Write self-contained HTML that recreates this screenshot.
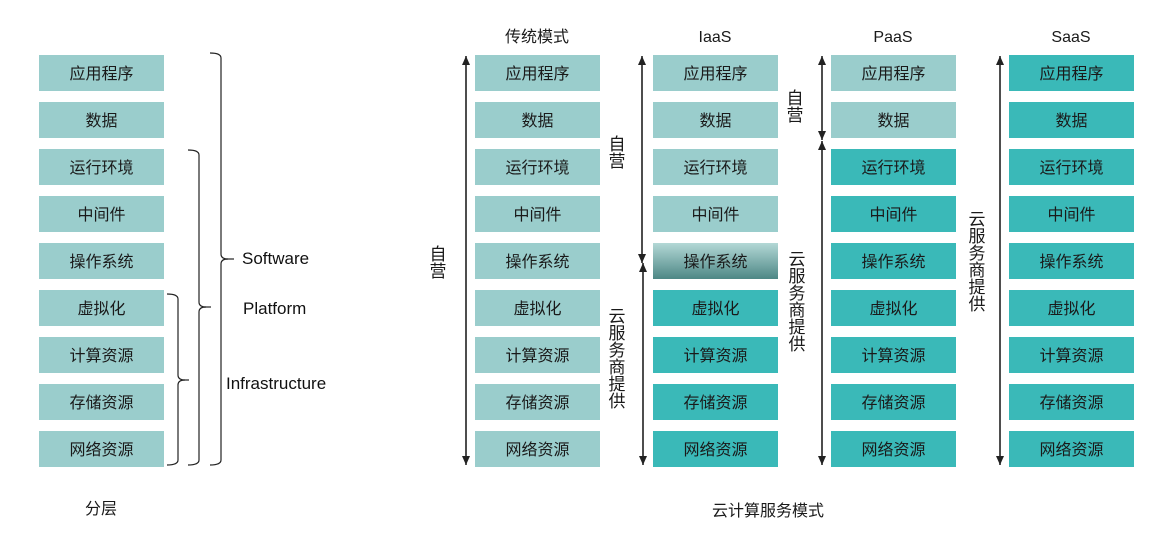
<!DOCTYPE html>
<html><head><meta charset="utf-8"><style>
body{margin:0;background:#fff;}
svg{display:block;font-family:"Liberation Sans","Noto Sans CJK SC",sans-serif;}
.t{font-size:16px;fill:#1a1a1a;text-anchor:middle;}
.v{font-size:17px;fill:#1a1a1a;text-anchor:middle;}
.L{fill:#9acdcc}.D{fill:#3ab9b8}
</style></head><body>
<svg width="1171" height="545" viewBox="0 0 1171 545" xmlns="http://www.w3.org/2000/svg">
<defs>
<linearGradient id="g" x1="0" y1="0" x2="0" y2="1"><stop offset="0" stop-color="#b3d8d6"/><stop offset="1" stop-color="#4d8785"/></linearGradient>
<marker id="a" markerWidth="10" markerHeight="8" refX="9" refY="4" orient="auto-start-reverse" markerUnits="userSpaceOnUse"><path d="M0,0 L9,4 L0,8 Z" fill="#222"/></marker>
</defs>

<!-- column 1 -->
<g>
<rect class="L" x="39" y="55" width="125" height="36"/><text class="t" x="101.5" y="79">应用程序</text>
<rect class="L" x="39" y="102" width="125" height="36"/><text class="t" x="101.5" y="126">数据</text>
<rect class="L" x="39" y="149" width="125" height="36"/><text class="t" x="101.5" y="173">运行环境</text>
<rect class="L" x="39" y="196" width="125" height="36"/><text class="t" x="101.5" y="220">中间件</text>
<rect class="L" x="39" y="243" width="125" height="36"/><text class="t" x="101.5" y="267">操作系统</text>
<rect class="L" x="39" y="290" width="125" height="36"/><text class="t" x="101.5" y="314">虚拟化</text>
<rect class="L" x="39" y="337" width="125" height="36"/><text class="t" x="101.5" y="361">计算资源</text>
<rect class="L" x="39" y="384" width="125" height="36"/><text class="t" x="101.5" y="408">存储资源</text>
<rect class="L" x="39" y="431" width="125" height="36"/><text class="t" x="101.5" y="455">网络资源</text>
</g>
<!-- traditional -->
<g>
<rect class="L" x="475" y="55" width="125" height="36"/><text class="t" x="537.5" y="79">应用程序</text>
<rect class="L" x="475" y="102" width="125" height="36"/><text class="t" x="537.5" y="126">数据</text>
<rect class="L" x="475" y="149" width="125" height="36"/><text class="t" x="537.5" y="173">运行环境</text>
<rect class="L" x="475" y="196" width="125" height="36"/><text class="t" x="537.5" y="220">中间件</text>
<rect class="L" x="475" y="243" width="125" height="36"/><text class="t" x="537.5" y="267">操作系统</text>
<rect class="L" x="475" y="290" width="125" height="36"/><text class="t" x="537.5" y="314">虚拟化</text>
<rect class="L" x="475" y="337" width="125" height="36"/><text class="t" x="537.5" y="361">计算资源</text>
<rect class="L" x="475" y="384" width="125" height="36"/><text class="t" x="537.5" y="408">存储资源</text>
<rect class="L" x="475" y="431" width="125" height="36"/><text class="t" x="537.5" y="455">网络资源</text>
</g>
<!-- IaaS -->
<g>
<rect class="L" x="653" y="55" width="125" height="36"/><text class="t" x="715.5" y="79">应用程序</text>
<rect class="L" x="653" y="102" width="125" height="36"/><text class="t" x="715.5" y="126">数据</text>
<rect class="L" x="653" y="149" width="125" height="36"/><text class="t" x="715.5" y="173">运行环境</text>
<rect class="L" x="653" y="196" width="125" height="36"/><text class="t" x="715.5" y="220">中间件</text>
<rect fill="url(#g)" x="653" y="243" width="125" height="36"/><text class="t" x="715.5" y="267">操作系统</text>
<rect class="D" x="653" y="290" width="125" height="36"/><text class="t" x="715.5" y="314">虚拟化</text>
<rect class="D" x="653" y="337" width="125" height="36"/><text class="t" x="715.5" y="361">计算资源</text>
<rect class="D" x="653" y="384" width="125" height="36"/><text class="t" x="715.5" y="408">存储资源</text>
<rect class="D" x="653" y="431" width="125" height="36"/><text class="t" x="715.5" y="455">网络资源</text>
</g>
<!-- PaaS -->
<g>
<rect class="L" x="831" y="55" width="125" height="36"/><text class="t" x="893.5" y="79">应用程序</text>
<rect class="L" x="831" y="102" width="125" height="36"/><text class="t" x="893.5" y="126">数据</text>
<rect class="D" x="831" y="149" width="125" height="36"/><text class="t" x="893.5" y="173">运行环境</text>
<rect class="D" x="831" y="196" width="125" height="36"/><text class="t" x="893.5" y="220">中间件</text>
<rect class="D" x="831" y="243" width="125" height="36"/><text class="t" x="893.5" y="267">操作系统</text>
<rect class="D" x="831" y="290" width="125" height="36"/><text class="t" x="893.5" y="314">虚拟化</text>
<rect class="D" x="831" y="337" width="125" height="36"/><text class="t" x="893.5" y="361">计算资源</text>
<rect class="D" x="831" y="384" width="125" height="36"/><text class="t" x="893.5" y="408">存储资源</text>
<rect class="D" x="831" y="431" width="125" height="36"/><text class="t" x="893.5" y="455">网络资源</text>
</g>
<!-- SaaS -->
<g>
<rect class="D" x="1009" y="55" width="125" height="36"/><text class="t" x="1071.5" y="79">应用程序</text>
<rect class="D" x="1009" y="102" width="125" height="36"/><text class="t" x="1071.5" y="126">数据</text>
<rect class="D" x="1009" y="149" width="125" height="36"/><text class="t" x="1071.5" y="173">运行环境</text>
<rect class="D" x="1009" y="196" width="125" height="36"/><text class="t" x="1071.5" y="220">中间件</text>
<rect class="D" x="1009" y="243" width="125" height="36"/><text class="t" x="1071.5" y="267">操作系统</text>
<rect class="D" x="1009" y="290" width="125" height="36"/><text class="t" x="1071.5" y="314">虚拟化</text>
<rect class="D" x="1009" y="337" width="125" height="36"/><text class="t" x="1071.5" y="361">计算资源</text>
<rect class="D" x="1009" y="384" width="125" height="36"/><text class="t" x="1071.5" y="408">存储资源</text>
<rect class="D" x="1009" y="431" width="125" height="36"/><text class="t" x="1071.5" y="455">网络资源</text>
</g>

<!-- vertical labels -->
<text class="v" x="438" y="260">自</text><text class="v" x="438" y="277">营</text>
<text class="v" x="617" y="150">自</text><text class="v" x="617" y="167">营</text>
<text class="v" x="617" y="322">云</text><text class="v" x="617" y="339">服</text><text class="v" x="617" y="356">务</text><text class="v" x="617" y="373">商</text><text class="v" x="617" y="390">提</text><text class="v" x="617" y="407">供</text>
<text class="v" x="795" y="104">自</text><text class="v" x="795" y="121">营</text>
<text class="v" x="797" y="265">云</text><text class="v" x="797" y="282">服</text><text class="v" x="797" y="299">务</text><text class="v" x="797" y="316">商</text><text class="v" x="797" y="333">提</text><text class="v" x="797" y="350">供</text>
<text class="v" x="977" y="225">云</text><text class="v" x="977" y="242">服</text><text class="v" x="977" y="259">务</text><text class="v" x="977" y="276">商</text><text class="v" x="977" y="293">提</text><text class="v" x="977" y="310">供</text>

<g stroke="#222" stroke-width="1.6" fill="none">
<line x1="466" y1="56" x2="466" y2="465" marker-start="url(#a)" marker-end="url(#a)"/>
<line x1="642" y1="56" x2="642" y2="263" marker-start="url(#a)" marker-end="url(#a)"/>
<line x1="643" y1="263" x2="643" y2="465" marker-start="url(#a)" marker-end="url(#a)"/>
<line x1="822" y1="56" x2="822" y2="140" marker-start="url(#a)" marker-end="url(#a)"/>
<line x1="822" y1="141" x2="822" y2="465" marker-start="url(#a)" marker-end="url(#a)"/>
<line x1="1000" y1="56" x2="1000" y2="465" marker-start="url(#a)" marker-end="url(#a)"/>
</g>
<g stroke="#222" stroke-width="1.2" fill="none">
<path d="M210,53 Q221,53 221,58 L221,254 Q221,259 228,259 Q221,259 221,264 L221,460 Q221,465 210,465"/>
<line x1="226" y1="259" x2="234" y2="259"/>
<path d="M188,150 Q199,150 199,155 L199,302 Q199,307 206,307 Q199,307 199,312 L199,460 Q199,465 188,465"/>
<line x1="204" y1="307" x2="211" y2="307"/>
<path d="M167,294 Q178,294 178,299 L178,375 Q178,380 185,380 Q178,380 178,385 L178,460 Q178,465 167,465"/>
<line x1="183" y1="380" x2="189" y2="380"/>
</g>
<g font-size="17" fill="#111">
<text x="242" y="264">Software</text>
<text x="243" y="314">Platform</text>
<text x="226" y="389">Infrastructure</text>
</g>
<g>
<text class="t" x="537" y="42">传统模式</text>
<text class="t" x="715" y="42">IaaS</text>
<text class="t" x="893" y="42">PaaS</text>
<text class="t" x="1071" y="42">SaaS</text>
<text class="t" x="101" y="514">分层</text>
<text class="t" x="768" y="516">云计算服务模式</text>
</g>
</svg>
</body></html>
